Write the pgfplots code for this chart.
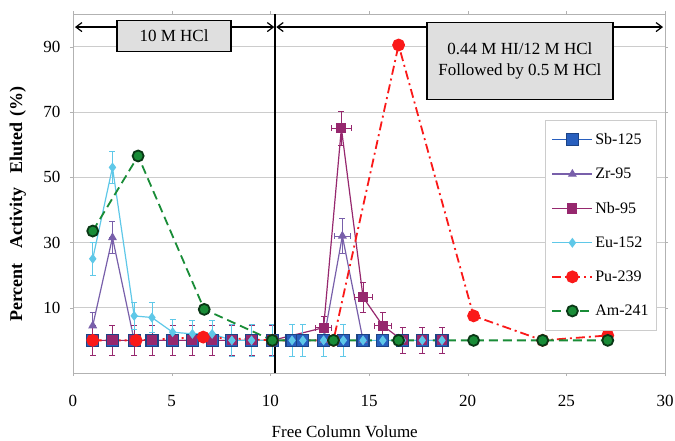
\documentclass[border=0pt]{standalone}
\usepackage{fontspec}
\setmainfont{Liberation Serif}
\usepackage{pgfplots}
\usepackage{pgfplotstable}
\pgfplotsset{compat=1.18}
\usetikzlibrary{arrows.meta}

\definecolor{sbblue}{RGB}{40,95,190}
\definecolor{zrpurple}{RGB}{120,95,170}
\definecolor{nbmag}{RGB}{150,40,110}
\definecolor{eucyan}{RGB}{95,200,232}
\definecolor{pured}{RGB}{250,25,25}
\definecolor{amgreen}{RGB}{25,140,55}

\pgfplotstableread{
x y
1 0
2 0
3.1 0
4 0
5.05 0
6.05 0
7.05 0
8.05 0
9.05 0
10.1 0
11.1 0
11.65 0
12.7 0
13.7 0
14.7 0
15.7 0
16.7 0
17.7 0
18.7 0
}\sbdata

\pgfplotstableread{
x y ex ey
1 4.5 0 4
2 31.5 0 5
3.1 0 0 0
4 0 0 0
5.05 0 0 0
6.05 0 0 0
7.05 0 0 0
8.05 0 0 0
9.05 0 0 0
10.1 0 0 0
12.7 0 0 0
13.65 32 0.4 5.5
14.7 0 0 0
}\zrdata

\pgfplotstableread{
x y ex ey
1 0 0 4.5
2 0 0 4.5
3.1 0 0 4.5
4 0 0 4.5
5.05 0 0 4.5
6.05 0 0 4.5
7.05 0 0 4.5
8.05 0 0 4.5
9.05 0 0 4.5
10.1 0 0 4.5
12.7 3.9 0.4 3.5
13.6 65 0.5 5.3
14.7 13.2 0.45 4.5
15.7 4.5 0.45 4
16.7 0 0 4
17.7 0 0 4
18.7 0 0 4
}\nbdata

\pgfplotstableread{
x y ey
1 25 5
2 53 5
3.1 7.5 4
4 7 4.5
5.05 2.5 4
6.05 2 4
7.05 2 4
8.05 0 5
9.05 0 5
10.1 0 5
11.1 0 5
11.65 0 5
12.7 0 5
13.7 0 5
14.7 0 0
15.7 0 0
16.7 0 0
17.7 0 0
18.7 0 0
}\eudata

\pgfplotstableread{
x y
1 0
3.2 0
6.6 1
10.1 0
13.2 0
16.5 90.5
20.3 7.5
23.8 0
27.1 1.5
}\pudata

\pgfplotstableread{
x y
1 33.5
3.3 56.5
6.65 9.5
10.1 0
13.2 0
16.5 0
20.3 0
23.8 0
27.1 0
}\amdata

\begin{document}
\begin{tikzpicture}
\path[use as bounding box] (-73pt,-67pt) rectangle (602pt,373pt);
\begin{axis}[
  at={(0,0)}, anchor=south west,
  scale only axis, width=592pt, height=359pt,
  xmin=0, xmax=30, ymin=-10, ymax=100,
  xtick={0,5,...,30}, ytick={10,30,50,70,90},
  ymajorgrids, grid style={draw=gray!40, line width=0.8pt},
  axis line style={draw=gray!60, line width=0.8pt},
  tick style={draw=gray!60},
  major tick length=3pt,
  tick align=outside,
  /pgf/number format/assume math mode=true,
  ticklabel style={font=\fontsize{17}{17}\selectfont},
  xticklabel style={yshift=-16pt},
  yticklabel style={xshift=-6pt},
  xlabel={Free Column Volume},
  xlabel style={font=\fontsize{17}{17}\selectfont, at={(axis description cs:0.459,-0.164)}, anchor=center},
  ylabel={\textbf{Percent\hspace{0.8em}Activity\hspace{0.8em}Eluted\hspace{0.3em}(\%)}},
  ylabel style={font=\fontsize{18}{18}\selectfont, at={(axis description cs:-0.093,0.47)}, anchor=center},
  legend style={at={(rel axis cs:0.9865,0.7047)}, anchor=north east, draw=gray!40, line width=0.8pt,
    font=\fontsize{16}{16}\selectfont, row sep=18pt, inner xsep=6pt, inner ysep=11pt, cells={anchor=west}},
  legend image code/.code={\draw[mark repeat=2,mark phase=2,#1] plot coordinates {(0pt,0pt)(20pt,0pt)(40pt,0pt)};},
  error bars/error bar style={line width=0.8pt},
  error bars/error mark options={rotate=90, mark size=3pt, line width=0.8pt},
]
\addplot[color=sbblue, line width=1.2pt, mark=square*, mark size=6pt,
  mark options={fill=sbblue, draw=sbblue!70!black}] table[x=x,y=y] {\sbdata};
\addlegendentry{Sb-125}

\addplot[color=zrpurple, line width=1.2pt, mark=triangle*, mark size=4pt,
  error bars/.cd, y dir=both, y explicit, x dir=both, x explicit]
  table[x=x,y=y,x error=ex,y error=ey] {\zrdata};
\addlegendentry{Zr-95}

\addplot[color=nbmag, line width=1.2pt, mark=square*, mark size=4.5pt,
  error bars/.cd, y dir=both, y explicit, x dir=both, x explicit]
  table[x=x,y=y,x error=ex,y error=ey] {\nbdata};
\addlegendentry{Nb-95}

\addplot[color=eucyan, line width=1.2pt, mark=diamond*, mark size=4pt,
  error bars/.cd, y dir=both, y explicit]
  table[x=x,y=y,y error=ey] {\eudata};
\addlegendentry{Eu-152}

\addplot[color=pured, line width=1.8pt, dash pattern=on 9pt off 4pt on 2pt off 4pt, mark=*, mark size=5.5pt,
  mark options={solid, fill=pured, draw=pured}] table[x=x,y=y] {\pudata};
\addlegendentry{Pu-239}

\addplot[color=amgreen, line width=1.8pt, dash pattern=on 9pt off 5pt, mark=*, mark size=5.5pt,
  mark options={solid, fill=amgreen, draw=amgreen!40!black}] table[x=x,y=y] {\amdata};
\addlegendentry{Am-241}

\draw[black, line width=1.8pt] (axis cs:10.25,-10) -- (axis cs:10.25,100);
\draw[{Straight Barb[length=6pt,width=9pt]}-{Straight Barb[length=6pt,width=9pt]}, line width=1.2pt]
  (axis cs:0.1,96) -- (axis cs:10.2,96);
\draw[{Straight Barb[length=6pt,width=9pt]}-{Straight Barb[length=6pt,width=9pt]}, line width=1.2pt]
  (axis cs:10.3,96) -- (axis cs:29.9,96);
\node[draw=black, line width=1.3pt, fill=gray!25, minimum width=114pt, minimum height=31pt,
  font=\fontsize{17}{17}\selectfont] at (axis cs:5.12,93.3) {10 M HCl};
\node[draw=black, line width=1.3pt, fill=gray!25, minimum width=186pt, minimum height=77pt, align=center,
  font=\fontsize{17}{21}\selectfont] at (axis cs:22.65,85.7) {0.44 M HI/12 M HCl\\Followed by 0.5 M HCl};
\end{axis}
\end{tikzpicture}
\end{document}
